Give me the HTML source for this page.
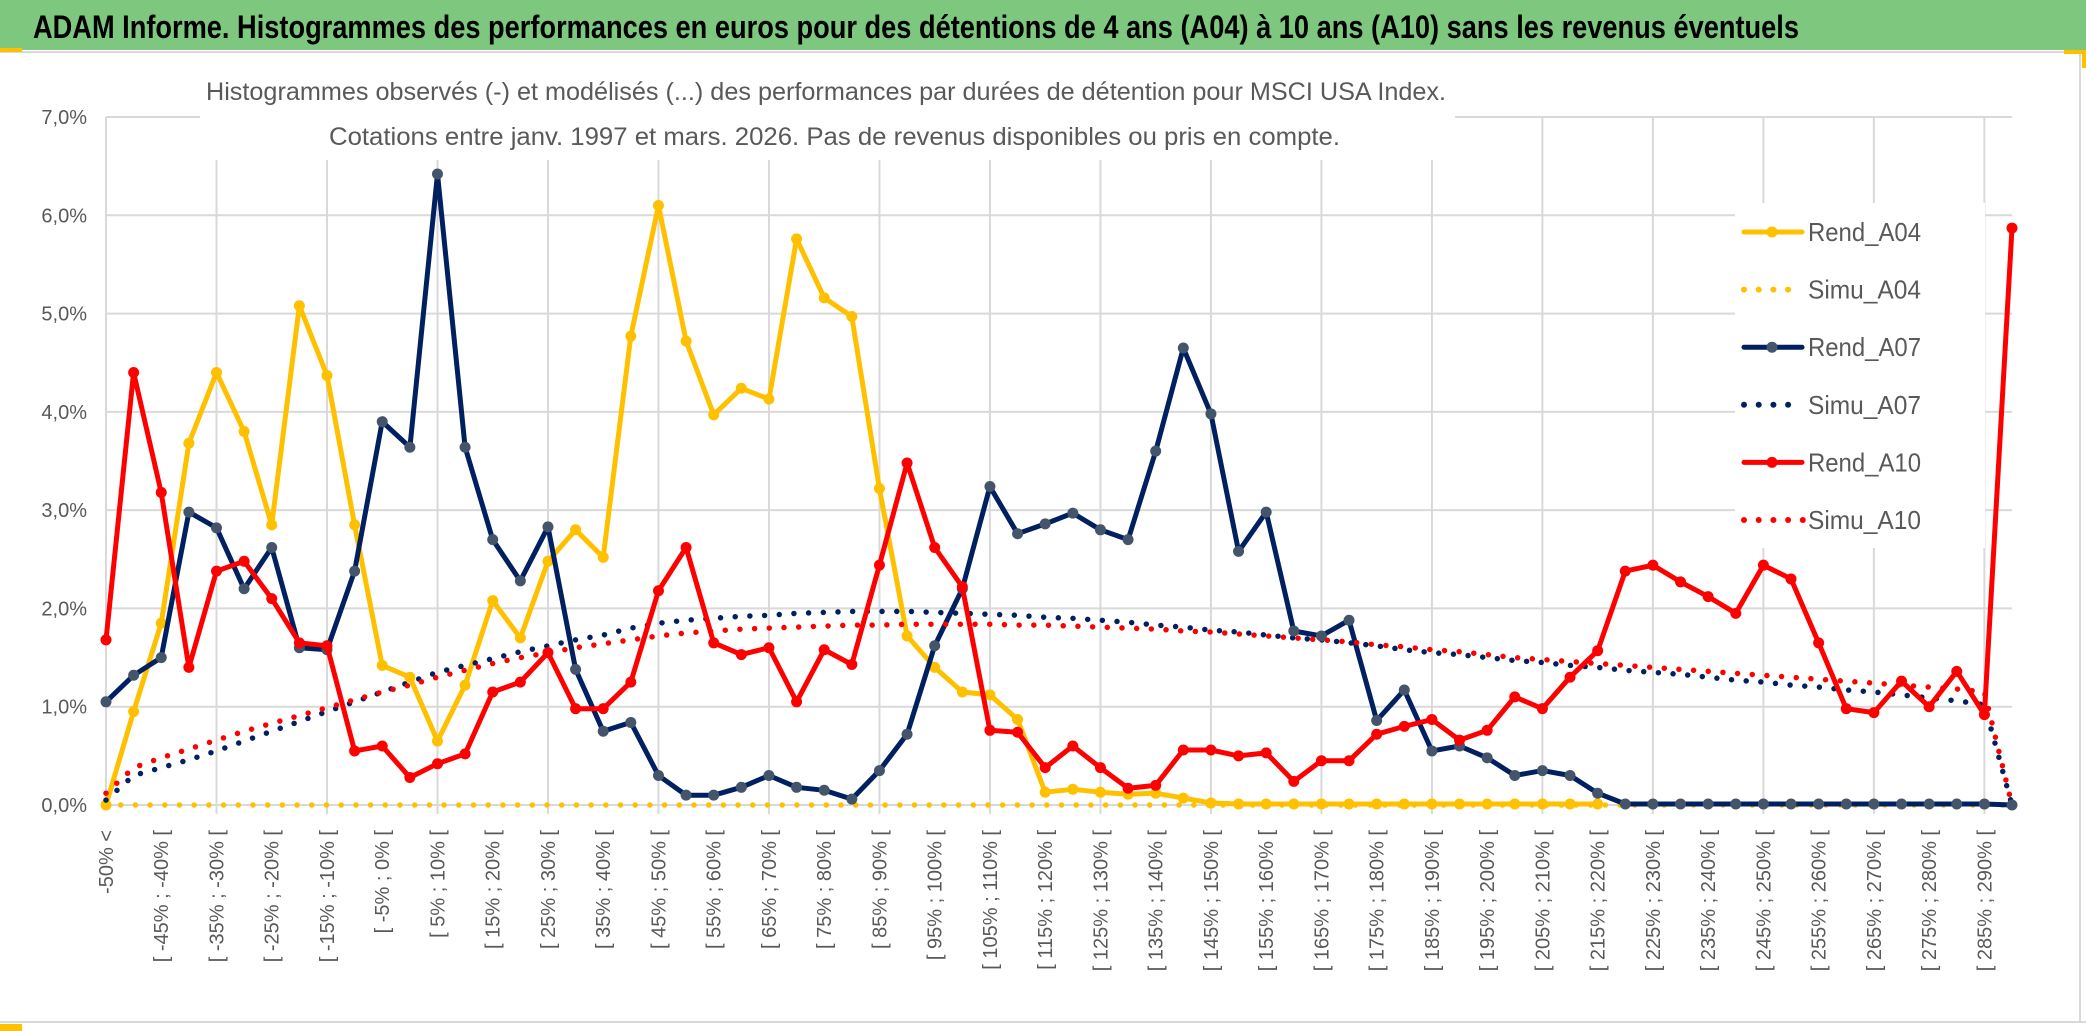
<!DOCTYPE html>
<html><head><meta charset="utf-8">
<style>
html,body{margin:0;padding:0;background:#fff;}
svg{display:block;}
text{font-family:"Liberation Sans",sans-serif;}
</style></head>
<body>
<svg id="chart" width="2086" height="1031" viewBox="0 0 2086 1031" xmlns="http://www.w3.org/2000/svg">
  <rect x="0" y="0" width="2086" height="1031" fill="#ffffff"/>
  <rect x="0" y="0" width="2086" height="50" fill="#7DC87E"/>
  <line x1="0" y1="52" x2="2086" y2="52" stroke="#d9d9d9" stroke-width="2"/>
  <rect x="0" y="48" width="22" height="4" fill="#FFC000"/>
  <rect x="2064" y="50" width="22" height="4" fill="#FFC000"/>
  <rect x="2082" y="50" width="4" height="18" fill="#FFC000"/>
  <line x1="2080" y1="54" x2="2080" y2="1022" stroke="#d9d9d9" stroke-width="2"/>
  <line x1="0" y1="1022" x2="2086" y2="1022" stroke="#d9d9d9" stroke-width="2"/>
  <rect x="0" y="1024" width="22" height="7" fill="#FFC000"/>
  <text x="33" y="38" font-size="32" font-weight="bold" fill="#000" textLength="1766" lengthAdjust="spacingAndGlyphs" style='font-family:"Liberation Sans Narrow","Liberation Sans",sans-serif'>ADAM Informe. Histogrammes des performances en euros pour des détentions de 4 ans (A04) à 10 ans (A10) sans les revenus éventuels</text>
  <g id="grid"></g>
  <g id="series"></g>
  <rect x="200" y="78" width="1255" height="82" fill="#fff"/>
  <text x="206" y="100" font-size="25" fill="#595959" textLength="1240" lengthAdjust="spacingAndGlyphs" style='font-family:"Liberation Sans Narrow","Liberation Sans",sans-serif'>Histogrammes observés (-) et modélisés (...) des performances par durées de détention pour MSCI USA Index.</text>
  <text x="329" y="145" font-size="25" fill="#595959" textLength="1011" lengthAdjust="spacingAndGlyphs" style='font-family:"Liberation Sans Narrow","Liberation Sans",sans-serif'>Cotations entre janv. 1997 et mars. 2026. Pas de revenus disponibles ou pris en compte.</text>
  <g id="legend"></g>
  <g id="axes"></g>
</svg>
<script>
const categories = ["-50% <","[ -50% ; -45% [","[ -45% ; -40% [","[ -40% ; -35% [","[ -35% ; -30% [","[ -30% ; -25% [","[ -25% ; -20% [","[ -20% ; -15% [","[ -15% ; -10% [","[ -10% ; -5% [","[ -5% ; 0% [","[ 0% ; 5% [","[ 5% ; 10% [","[ 10% ; 15% [","[ 15% ; 20% [","[ 20% ; 25% [","[ 25% ; 30% [","[ 30% ; 35% [","[ 35% ; 40% [","[ 40% ; 45% [","[ 45% ; 50% [","[ 50% ; 55% [","[ 55% ; 60% [","[ 60% ; 65% [","[ 65% ; 70% [","[ 70% ; 75% [","[ 75% ; 80% [","[ 80% ; 85% [","[ 85% ; 90% [","[ 90% ; 95% [","[ 95% ; 100% [","[ 100% ; 105% [","[ 105% ; 110% [","[ 110% ; 115% [","[ 115% ; 120% [","[ 120% ; 125% [","[ 125% ; 130% [","[ 130% ; 135% [","[ 135% ; 140% [","[ 140% ; 145% [","[ 145% ; 150% [","[ 150% ; 155% [","[ 155% ; 160% [","[ 160% ; 165% [","[ 165% ; 170% [","[ 170% ; 175% [","[ 175% ; 180% [","[ 180% ; 185% [","[ 185% ; 190% [","[ 190% ; 195% [","[ 195% ; 200% [","[ 200% ; 205% [","[ 205% ; 210% [","[ 210% ; 215% [","[ 215% ; 220% [","[ 220% ; 225% [","[ 225% ; 230% [","[ 230% ; 235% [","[ 235% ; 240% [","[ 240% ; 245% [","[ 245% ; 250% [","[ 250% ; 255% [","[ 255% ; 260% [","[ 260% ; 265% [","[ 265% ; 270% [","[ 270% ; 275% [","[ 275% ; 280% [","[ 280% ; 285% [","[ 285% ; 290% [","290% >"];
const rendA04 = [0,0.95,1.85,3.68,4.4,3.8,2.85,5.08,4.37,2.85,1.42,1.3,0.65,1.22,2.08,1.7,2.48,2.8,2.52,4.77,6.1,4.72,3.97,4.24,4.13,5.76,5.16,4.97,3.22,1.72,1.4,1.15,1.12,0.87,0.13,0.16,0.13,0.11,0.12,0.07,0.02,0.01,0.01,0.01,0.01,0.01,0.01,0.01,0.01,0.01,0.01,0.01,0.01,0.01,0.01,null,null,null,null,null,null,null,null,null,null,null,null,null,null,null];
const simuA04 = [0,0,0,0,0,0,0,0,0,0,0,0,0,0,0,0,0,0,0,0,0,0,0,0,0,0,0,0,0,0,0,0,0,0,0,0,0,0,0,0,0,0,0,0,0,0,0,0,0,0,0,0,0,0,0,0,0,0,0,0,0,0,0,0,0,0,0,0,0,0];
const rendA07 = [1.05,1.32,1.5,2.98,2.82,2.2,2.62,1.6,1.58,2.38,3.9,3.64,6.42,3.64,2.7,2.28,2.83,1.38,0.75,0.84,0.3,0.1,0.1,0.18,0.3,0.18,0.15,0.06,0.35,0.72,1.62,2.2,3.24,2.76,2.86,2.97,2.8,2.7,3.6,4.65,3.98,2.58,2.98,1.77,1.72,1.88,0.86,1.17,0.55,0.6,0.48,0.3,0.35,0.3,0.12,0.01,0.01,0.01,0.01,0.01,0.01,0.01,0.01,0.01,0.01,0.01,0.01,0.01,0.01,0];
const simuA07 = [0.05,0.3,0.38,0.46,0.55,0.65,0.75,0.85,0.95,1.05,1.15,1.25,1.35,1.42,1.49,1.56,1.62,1.68,1.73,1.8,1.85,1.88,1.9,1.92,1.93,1.95,1.96,1.97,1.97,1.97,1.96,1.95,1.94,1.93,1.91,1.9,1.88,1.86,1.83,1.81,1.78,1.76,1.73,1.7,1.68,1.65,1.62,1.58,1.55,1.53,1.5,1.47,1.45,1.42,1.4,1.37,1.35,1.33,1.3,1.27,1.25,1.22,1.2,1.17,1.15,1.12,1.09,1.06,1.02,0];
const rendA10 = [1.68,4.4,3.18,1.4,2.38,2.48,2.1,1.65,1.62,0.55,0.6,0.28,0.42,0.52,1.15,1.25,1.55,0.98,0.98,1.25,2.18,2.62,1.65,1.53,1.6,1.05,1.58,1.43,2.44,3.48,2.62,2.22,0.76,0.74,0.38,0.6,0.38,0.17,0.2,0.56,0.56,0.5,0.53,0.24,0.45,0.45,0.72,0.8,0.87,0.66,0.76,1.1,0.98,1.3,1.57,2.38,2.44,2.27,2.12,1.95,2.44,2.3,1.65,0.98,0.94,1.26,1.0,1.36,0.92,5.87];
const simuA10 = [0.12,0.38,0.48,0.57,0.66,0.75,0.83,0.91,0.99,1.07,1.15,1.22,1.3,1.37,1.44,1.5,1.55,1.6,1.64,1.68,1.72,1.75,1.77,1.79,1.8,1.81,1.82,1.83,1.83,1.84,1.84,1.84,1.84,1.83,1.83,1.82,1.81,1.8,1.79,1.77,1.76,1.74,1.72,1.7,1.68,1.66,1.63,1.61,1.58,1.56,1.53,1.5,1.48,1.46,1.44,1.42,1.4,1.38,1.36,1.34,1.32,1.3,1.28,1.26,1.24,1.22,1.2,1.18,1.15,0];
const yTicks = [0,1,2,3,4,5,6,7];
const yTickLabels = ["0,0%","1,0%","2,0%","3,0%","4,0%","5,0%","6,0%","7,0%"];
const seriesNames = ["Rend_A04","Simu_A04","Rend_A07","Simu_A07","Rend_A10","Simu_A10"];

const NS = "http://www.w3.org/2000/svg";
const X0 = 106, X1 = 2012, Y0 = 805, Y7 = 117;
function xPos(i){ return X0 + i * (X1 - X0) / (categories.length - 1); }
function yPos(v){ return Y0 - v * (Y0 - Y7) / 7; }
function mk(tag, attrs, parent){
  const e = document.createElementNS(NS, tag);
  for (const k in attrs) e.setAttribute(k, attrs[k]);
  parent.appendChild(e);
  return e;
}
const grid = document.getElementById('grid');
const series = document.getElementById('series');
const axes = document.getElementById('axes');
const legend = document.getElementById('legend');

// horizontal gridlines + y labels
yTicks.forEach((t, k) => {
  const gl = mk('line', {x1: X0, x2: X1, y1: yPos(t), y2: yPos(t), stroke: '#d9d9d9', 'stroke-width': 2}, grid);
  
  
  const lb = mk('text', {x: 87, y: yPos(t) + 7, 'font-size': 20, fill: '#595959', 'text-anchor': 'end'}, axes);
  lb.textContent = yTickLabels[k];
  
  
});
// left axis line
const la = mk('line', {x1: X0, x2: X0, y1: Y7, y2: Y0, stroke: '#d9d9d9', 'stroke-width': 2}, grid);


// vertical gridlines every 4 categories
for (let i = 4; i < categories.length; i += 4) {
  const vl = mk('line', {x1: xPos(i), x2: xPos(i), y1: Y7, y2: Y0 + 9, stroke: '#d9d9d9', 'stroke-width': 2}, grid);
  
  
}
// x labels (every other category)
for (let i = 0; i < categories.length; i += 2) {
  const x = xPos(i) + 7, y = 830;
  const t = mk('text', {x: x, y: y, 'font-size': 20, fill: '#595959', 'text-anchor': 'end', transform: `rotate(-90 ${x} ${y})`}, axes);
  t.textContent = categories[i];
  
  
}

function pathFor(vals){
  let d = '', pen = false;
  vals.forEach((v, i) => {
    if (v === null || v === undefined) { pen = false; return; }
    d += (pen ? 'L' : 'M') + xPos(i).toFixed(1) + ' ' + yPos(v).toFixed(1) + ' ';
    pen = true;
  });
  return d;
}
function drawRend(vals, color, marker, name){
  const g = mk('g', {}, series);
  
  
  const p = mk('path', {d: pathFor(vals), fill: 'none', stroke: color, 'stroke-width': 5, 'stroke-linejoin': 'round', 'stroke-linecap': 'round'}, g);
  
  
  vals.forEach((v, i) => {
    if (v === null) return;
    const c = mk('circle', {cx: xPos(i), cy: yPos(v), r: 5.5, fill: marker}, g);
    
    
  });
}
function drawSimu(vals, color, name){
  const p = mk('path', {d: pathFor(vals), fill: 'none', stroke: color, 'stroke-width': 5.5, 'stroke-linecap': 'round', 'stroke-dasharray': '0 14.7'}, series);
  
  
}
drawSimu(simuA04, '#FFC000', 'simu-a04-line');
drawRend(rendA04, '#FFC000', '#FFC000', 'rend-a04');
drawSimu(simuA07, '#002060', 'simu-a07-line');
drawRend(rendA07, '#002060', '#44546A', 'rend-a07');
drawSimu(simuA10, '#FF0000', 'simu-a10-line');
drawRend(rendA10, '#FF0000', '#FF0000', 'rend-a10');

// legend
const lbg = mk('rect', {x: 1735, y: 203, width: 250, height: 345, fill: '#fff'}, legend);


const legColors = ['#FFC000','#FFC000','#002060','#002060','#FF0000','#FF0000'];
const legMarkers = ['#FFC000',null,'#44546A',null,'#FF0000',null];
seriesNames.forEach((nm, k) => {
  const cy = 232 + k * 57.6;
  const g = mk('g', {}, legend);
  
  
  if (legMarkers[k]) {
    mk('line', {x1: 1744, x2: 1802, y1: cy, y2: cy, stroke: legColors[k], 'stroke-width': 5, 'stroke-linecap': 'round'}, g);
    mk('circle', {cx: 1772, cy: cy, r: 5.5, fill: legMarkers[k]}, g);
  } else {
    const n = k === 5 ? 5 : 4;
    for (let j = 0; j < n; j++) mk('circle', {cx: 1744 + j * 14.7, cy: cy, r: 3, fill: legColors[k]}, g);
  }
  const t = mk('text', {x: 1808, y: cy + 9, 'font-size': 26, fill: '#595959', textLength: 113, lengthAdjust: 'spacingAndGlyphs', style: 'font-family:"Liberation Sans Narrow","Liberation Sans",sans-serif'}, g);
  t.textContent = nm;
});
</script>
</body></html>
